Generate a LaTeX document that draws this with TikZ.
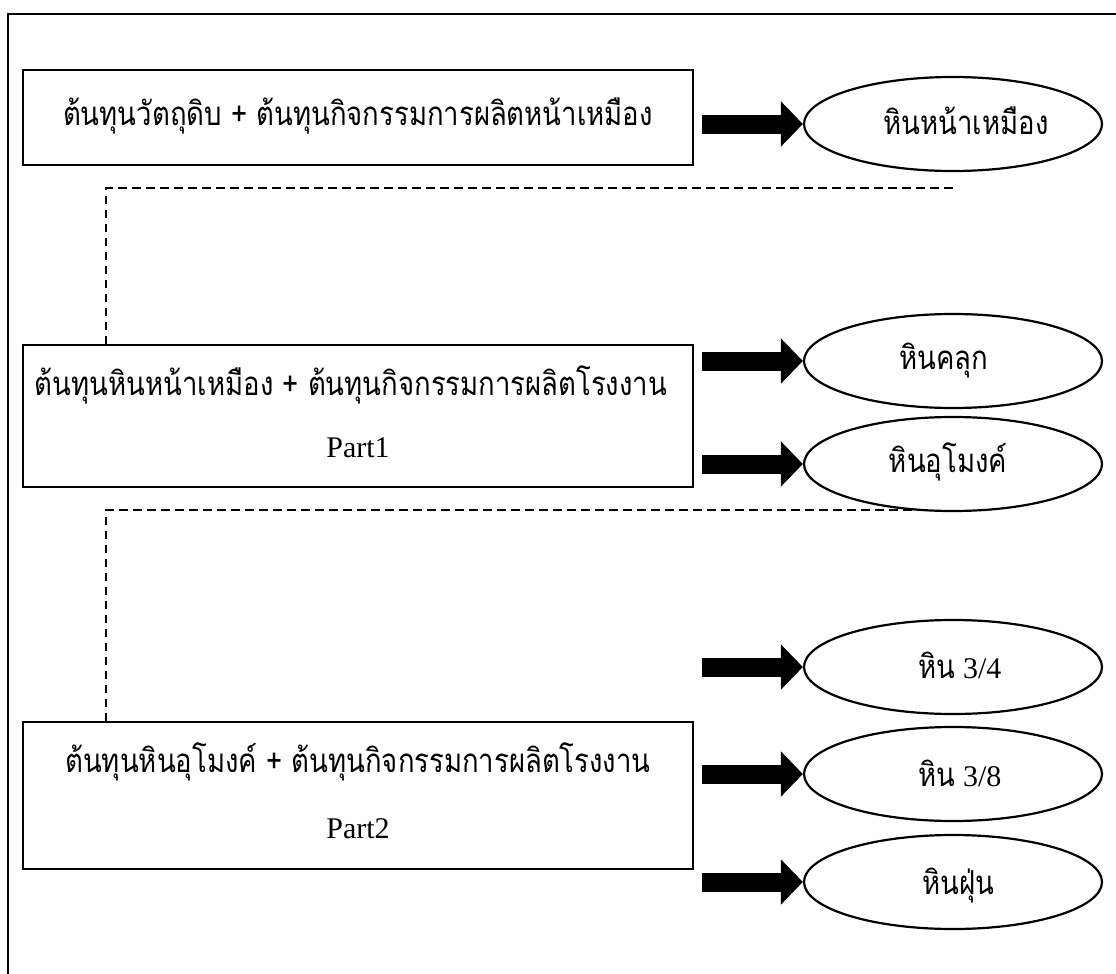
\documentclass[tikz,border=0pt]{standalone}
\usepackage{fontspec}
\setmainfont{Liberation Serif}
\newfontfamily\thaifont[Script=Thai]{Loma}
\usetikzlibrary{arrows.meta,shapes.geometric}
\newcommand{\thaitxt}[1]{\scalebox{1}[1.2]{\thaifont\fontsize{27.5}{32}\selectfont #1}}

\begin{document}
\begin{tikzpicture}[x=1pt,y=-1pt,
  costbox/.style={draw,line width=1.6pt,minimum width=670pt,inner sep=0pt},
  product/.style={draw,ellipse,line width=2.2pt,minimum width=298pt,minimum height=94pt,inner sep=0pt,fill=white},
  flow/.style={line width=19pt,-{Triangle[length=22pt,width=44pt]}},
  link/.style={dash pattern=on 8.5pt off 5.5pt,line width=1.8pt},
  txt/.style={inner sep=0pt,anchor=base,font=\fontsize{30}{34}\selectfont}]
\useasboundingbox (0,0) rectangle (1116,974);
\clip (0,0) rectangle (1116,974);
\fill[white] (0,0) rectangle (1116,974);

% outer frame (runs past the right and bottom edges)
\draw[line width=2.8pt] (8,14) rectangle (1140,1000);

% cost boxes
\node[costbox,minimum height=95pt]  (b1) at (358,117.5) {};
\node[costbox,minimum height=142pt] (b2) at (358,416) {};
\node[costbox,minimum height=147pt] (b3) at (358,795.5) {};

\node[txt] (b1t) at (358,125) {\thaitxt{ต้นทุนวัตถุดิบ + ต้นทุนกิจกรรมการผลิตหน้าเหมือง}};
\node[txt] (b2t) at (351,395) {\thaitxt{ต้นทุนหินหน้าเหมือง + ต้นทุนกิจกรรมการผลิตโรงงาน}};
\node[txt] (b2p) at (358,457) {Part1};
\node[txt] (b3t) at (358,772) {\thaitxt{ต้นทุนหินอุโมงค์ + ต้นทุนกิจกรรมการผลิตโรงงาน}};
\node[txt] (b3p) at (358,838) {Part2};

% dashed links between the stages
\coordinate (t1) at (957,188);
\coordinate (t2) at (957,510);
\draw[link] ([xshift=84pt]b2.north west) |- (t1);
\draw[link] ([xshift=84pt]b3.north west) |- (t2);

% products
\node[product] (e1) at (953,124) {};
\node[product] (e2) at (953,361) {};
\node[product] (e3) at (953,464) {};
\node[product] (e4) at (953,667) {};
\node[product] (e5) at (953,774) {};
\node[product] (e6) at (953,882) {};

\node[txt] (e1t) at (966,134) {\thaitxt{หินหน้าเหมือง}};
\node[txt] (e2t) at (944,369) {\thaitxt{หินคลุก}};
\node[txt] (e3t) at (948,472) {\thaitxt{หินอุโมงค์}};
\node[txt] (e4t) at (960,678) {\thaitxt{หิน} 3/4};
\node[txt] (e5t) at (960,786) {\thaitxt{หิน} 3/8};
\node[txt] (e6t) at (958,894) {\thaitxt{หินฝุ่น}};

% block arrows into the products
\foreach \e in {1,...,6} {
  \coordinate (a\e) at (702,0 |- e\e.west);
}
\foreach \e in {1,...,6} {
  \draw[flow] (a\e |- e\e.west) -- (e\e.west);
}
\end{tikzpicture}
\end{document}
